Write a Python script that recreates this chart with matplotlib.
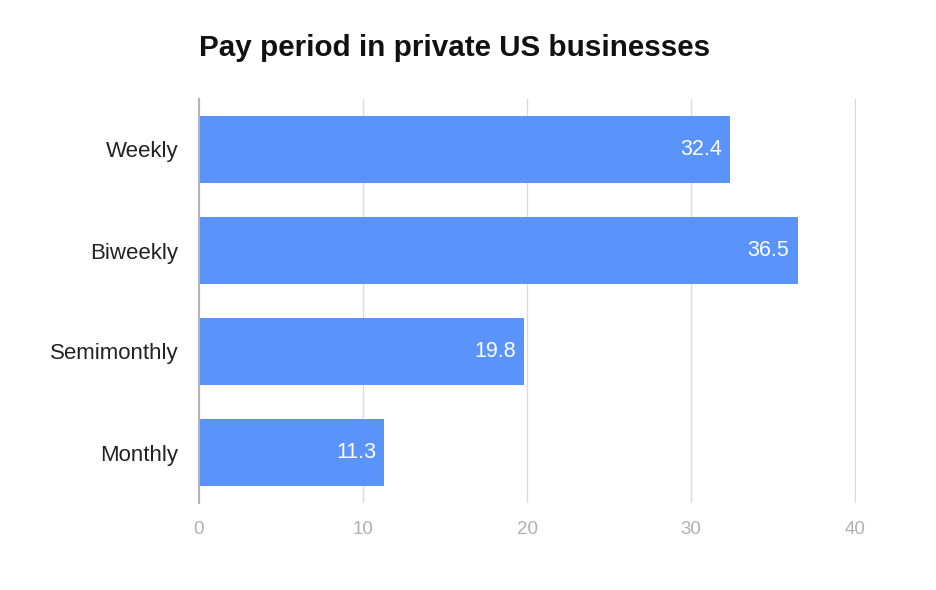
import matplotlib.pyplot as plt

categories = ['Weekly', 'Biweekly', 'Semimonthly', 'Monthly']
values = [32.4, 36.5, 19.8, 11.3]
xticks = [0, 10, 20, 30, 40]

plt.rcParams['font.family'] = ['Liberation Sans', 'DejaVu Sans']

fig = plt.figure(figsize=(9.37, 5.9), dpi=100)
ax = fig.add_axes([199 / 937, 1 - 503 / 590, (856 - 199) / 937, (503 - 99) / 590])

pos = list(range(len(categories)))
bars = ax.barh(pos, values, height=0.66, color='#5a93f9', zorder=2)
ax.set_ylim(len(categories) - 0.5, -0.5)
ax.set_xlim(0, 40.06)

for b, v in zip(bars, values):
    ax.text(v - 0.5, b.get_y() + b.get_height() / 2, f'{v}', color='white',
            ha='right', va='center', fontsize=15.5)

ax.set_yticks(pos)
ax.set_yticklabels(categories, fontsize=16, color='#222222')
ax.set_xticks(xticks)
ax.set_xticklabels([str(t) for t in xticks], fontsize=13.5, color='#b0b0b0')
ax.tick_params(axis='both', length=0)
ax.tick_params(axis='y', pad=15)
ax.tick_params(axis='x', pad=13)
ax.grid(axis='x', color='#dcdcdc', linewidth=1, zorder=0)
for s in ['top', 'right', 'bottom']:
    ax.spines[s].set_visible(False)
ax.spines['left'].set_color('#b5b5b5')
ax.spines['left'].set_linewidth(1.5)
ax.spines['left'].set_zorder(3)

fig.text(199 / 937, 1 - 48 / 590, 'Pay period in private US businesses',
         fontsize=21.3, fontweight='bold', ha='left', va='center', color='#111111')

fig.savefig('out.png')
